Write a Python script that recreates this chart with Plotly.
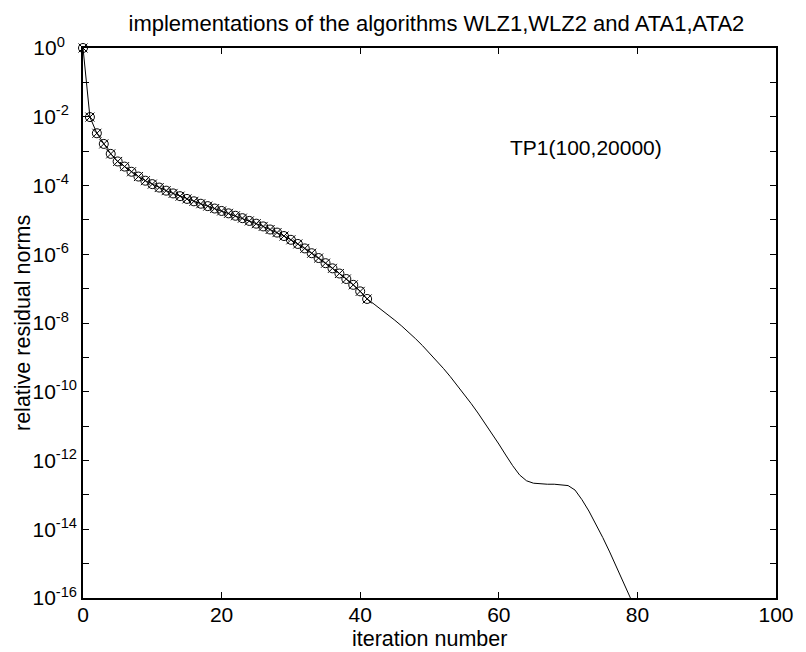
import plotly.graph_objects as go

# iteration numbers and log10 of the relative residual norms
iterations = list(range(0, 81))
log10_residual = [
    0.00, -2.01, -2.48, -2.79, -3.08, -3.30, -3.45, -3.60, -3.74, -3.86,
    -3.96, -4.06, -4.15, -4.23, -4.31, -4.39, -4.46, -4.53, -4.60, -4.67,
    -4.74, -4.81, -4.88, -4.95, -5.03, -5.11, -5.19, -5.28, -5.37, -5.47,
    -5.58, -5.70, -5.83, -5.97, -6.11, -6.26, -6.41, -6.56, -6.72, -6.89,
    -7.08, -7.30, -7.45, -7.60, -7.76, -7.92, -8.09, -8.27, -8.46, -8.66,
    -8.87, -9.09, -9.32, -9.56, -9.81, -10.07, -10.34, -10.62, -10.91, -11.21,
    -11.52, -11.84, -12.15, -12.42, -12.59, -12.66, -12.68, -12.69, -12.69, -12.70,
    -12.73, -12.86, -13.14, -13.47, -13.84, -14.24, -14.66, -15.10, -15.55, -16.00,
    -16.45,
]
n_marked = 42  # iterations 0..41 carry markers (WLZ: circles, ATA: crosses)

title_text = "implementations of the algorithms WLZ1,WLZ2 and ATA1,ATA2"
annotation_text = "TP1(100,20000)"
x_label = "iteration number"
y_label = "relative residual norms"
x_ticks = [0, 20, 40, 60, 80, 100]
y_label_exponents = list(range(0, -17, -2))
y_minor_exponents = list(range(-1, -16, -2))

residual = [10 ** v for v in log10_residual]

FONT = "Liberation Sans, Arial, Helvetica, sans-serif"
FS = 21

fig = go.Figure()
fig.add_trace(go.Scatter(
    x=iterations, y=residual, mode="lines",
    line=dict(color="black", width=1), showlegend=False, hoverinfo="skip"))
fig.add_trace(go.Scatter(
    x=iterations[:n_marked], y=residual[:n_marked], mode="markers",
    marker=dict(symbol="circle-open", size=9, color="black", line=dict(width=1)),
    showlegend=False, cliponaxis=False))
fig.add_trace(go.Scatter(
    x=iterations[:n_marked], y=residual[:n_marked], mode="markers",
    marker=dict(symbol="x-thin-open", size=9, color="black", line=dict(width=1, color="black")),
    showlegend=False, cliponaxis=False))


def exp_label(e):
    # pad short exponents so the "10" parts line up on the left like the reference
    s = str(e)
    pad = "\u00a0" * {1: 3, 2: 2}.get(len(s), 0)
    return "10<sup>%s%s</sup>" % (s, pad)


y_tickvals = [10 ** e for e in y_label_exponents]
y_ticktext = [exp_label(e) for e in y_label_exponents]
y_minorvals = [10 ** e for e in y_minor_exponents]

fig.add_annotation(
    x=61.3, y=-2.88, xref="x", yref="y", text=annotation_text, showarrow=False,
    xanchor="left", yanchor="middle", font=dict(family=FONT, size=FS, color="black"))
fig.add_annotation(
    x=0.5, y=0, xref="paper", yref="paper", text=x_label, showarrow=False,
    xanchor="center", yanchor="middle", yshift=-41,
    font=dict(family=FONT, size=21.5, color="black"))
fig.add_annotation(
    x=0, y=0.5, xref="paper", yref="paper", text=y_label, showarrow=False,
    xanchor="center", yanchor="middle", xshift=-60, textangle=-90,
    font=dict(family=FONT, size=21.5, color="black"))

# the page body adds an 8 px offset, so the figure is 8 px smaller and margins shifted
fig.update_layout(
    width=798, height=644,
    margin=dict(l=75, r=23, t=40, b=54),
    paper_bgcolor="white", plot_bgcolor="white",
    font=dict(family=FONT, size=FS, color="black"),
    title=dict(text=title_text, xref="paper", x=0.51, xanchor="center",
               yref="container", y=1 - 15 / 644, yanchor="middle",
               font=dict(family=FONT, size=22, color="black")),
    xaxis=dict(
        range=[0, 100], tickvals=x_ticks, ticks="inside", ticklen=6, tickcolor="black",
        showline=True, linecolor="black", linewidth=1.5, mirror="ticks", showgrid=False,
        zeroline=False, tickfont=dict(size=FS), ticklabelstandoff=-3),
    yaxis=dict(
        type="log", range=[-16, 0], tickvals=y_tickvals, ticktext=y_ticktext,
        ticks="inside", ticklen=6, tickcolor="black",
        minor=dict(tickvals=y_minorvals, ticks="inside", ticklen=6, tickcolor="black",
                   showgrid=False),
        showline=True, linecolor="black", linewidth=1.5, mirror="ticks", showgrid=False,
        zeroline=False, tickfont=dict(size=FS)),
)

fig.write_html("out.html")
